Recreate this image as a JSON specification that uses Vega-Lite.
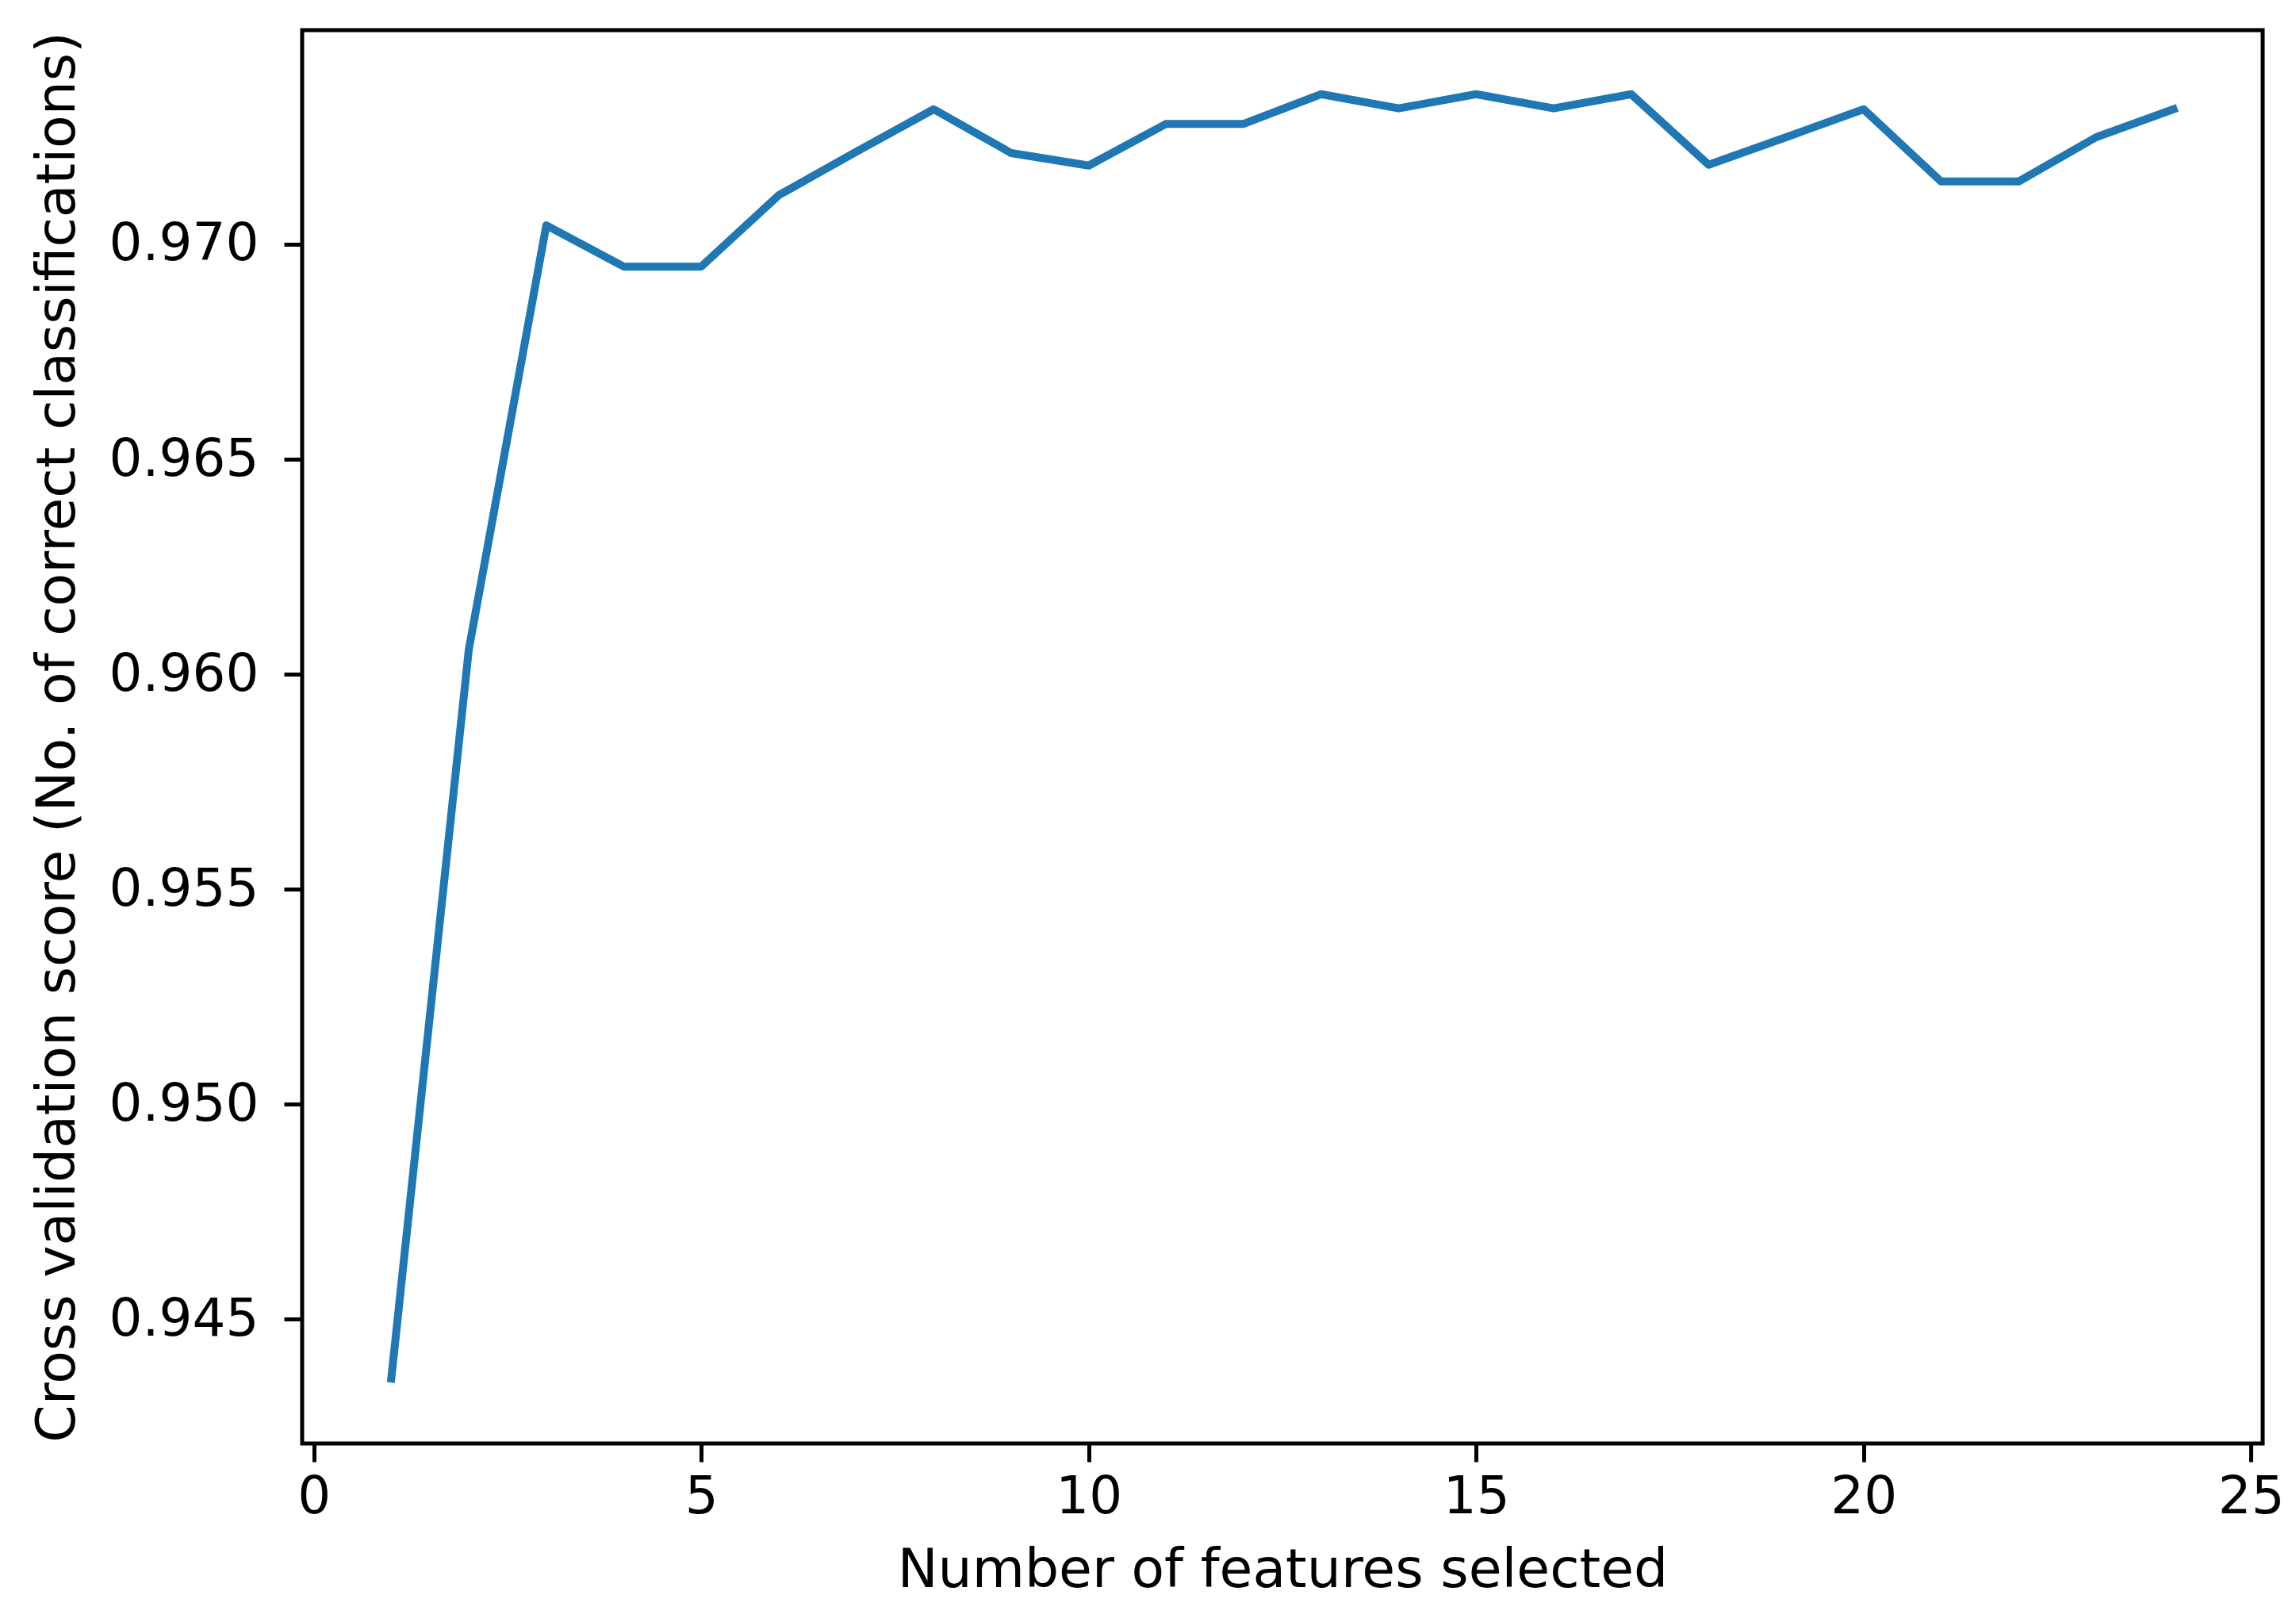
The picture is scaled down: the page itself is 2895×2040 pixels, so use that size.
{
  "$schema": "https://vega.github.io/schema/vega-lite/v6.json",
  "width": 2472,
  "height": 1782,
  "autosize": {"type": "none"},
  "padding": {"left": 381, "top": 38, "right": 42, "bottom": 220},
  "background": "white",
  "config": {
    "view": {"stroke": "black", "strokeWidth": 5},
    "font": "DejaVu Sans",
    "axis": {
      "domain": false,
      "grid": false,
      "ticks": true,
      "tickColor": "black",
      "tickWidth": 5,
      "tickSize": 23,
      "labelFont": "DejaVu Sans",
      "labelFontSize": 66,
      "labelColor": "black",
      "labelLimit": 500,
      "titleFont": "DejaVu Sans",
      "titleFontSize": 68,
      "titleFontWeight": "normal",
      "titleColor": "black",
      "titleLimit": 3000
    }
  },
  "data": {
    "values": [
      {"n": 1, "score": 0.94362},
      {"n": 2, "score": 0.96057},
      {"n": 3, "score": 0.97044},
      {"n": 4, "score": 0.96948},
      {"n": 5, "score": 0.96948},
      {"n": 6, "score": 0.97114},
      {"n": 7, "score": 0.97215},
      {"n": 8, "score": 0.97314},
      {"n": 9, "score": 0.97212},
      {"n": 10, "score": 0.97183},
      {"n": 11, "score": 0.97280},
      {"n": 12, "score": 0.97280},
      {"n": 13, "score": 0.97349},
      {"n": 14, "score": 0.97316},
      {"n": 15, "score": 0.97349},
      {"n": 16, "score": 0.97316},
      {"n": 17, "score": 0.97349},
      {"n": 18, "score": 0.97185},
      {"n": 19, "score": 0.97249},
      {"n": 20, "score": 0.97314},
      {"n": 21, "score": 0.97146},
      {"n": 22, "score": 0.97146},
      {"n": 23, "score": 0.97249},
      {"n": 24, "score": 0.97314}
    ]
  },
  "mark": {"type": "line", "color": "#1f77b4", "strokeWidth": 10, "strokeCap": "square", "strokeJoin": "round", "clip": true},
  "encoding": {
    "x": {
      "field": "n",
      "type": "quantitative",
      "scale": {"domain": [-0.15, 25.15], "nice": false, "zero": false},
      "axis": {
        "title": "Number of features selected",
        "values": [0, 5, 10, 15, 20, 25],
        "format": "d",
        "labelPadding": 12,
        "titleBaseline": "alphabetic",
        "titleY": 180,
        "labelFlush": false,
        "labelOverlap": false
      }
    },
    "y": {
      "field": "score",
      "type": "quantitative",
      "scale": {"domain": [0.94211, 0.97498], "nice": false, "zero": false},
      "axis": {
        "title": "Cross validation score (No. of correct classifications)",
        "values": [0.945, 0.95, 0.955, 0.96, 0.965, 0.97],
        "format": ".3f",
        "labelPadding": 32,
        "titleBaseline": "alphabetic",
        "titleX": -288,
        "labelFlush": false,
        "labelOverlap": false
      }
    }
  }
}
